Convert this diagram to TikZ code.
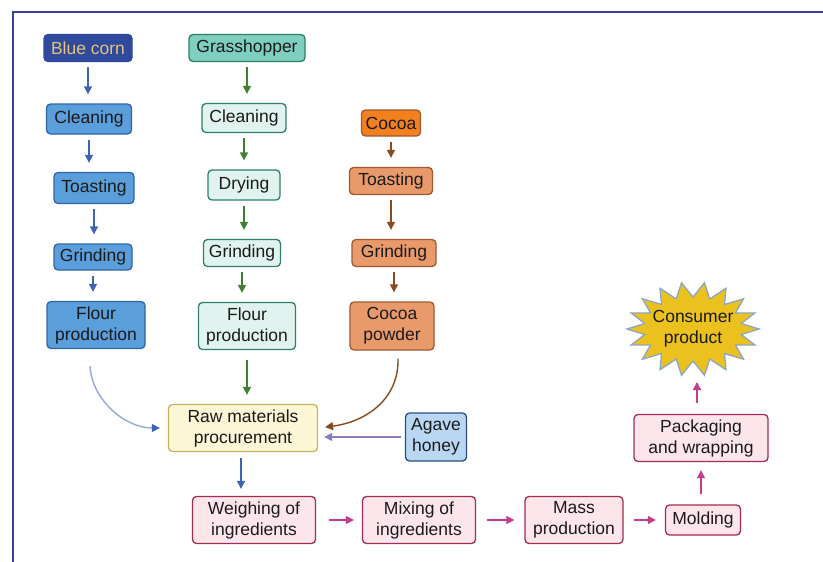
\documentclass[tikz,border=0pt]{standalone}
\usepackage{fontspec}
\setmainfont{Liberation Sans}
\usetikzlibrary{arrows.meta,calc}
\definecolor{frame}{HTML}{3A3F9A}
\definecolor{bcfill}{HTML}{2F4A9C}
\definecolor{bctext}{HTML}{E6C27A}
\definecolor{bfill}{HTML}{5A9EDB}
\definecolor{bdraw}{HTML}{2F66A8}
\definecolor{gtopfill}{HTML}{7ECFC0}
\definecolor{gdraw}{HTML}{2E7F6C}
\definecolor{gfill}{HTML}{E0F3EF}
\definecolor{garrow}{HTML}{3F7F2F}
\definecolor{ctopfill}{HTML}{F2801F}
\definecolor{cfill}{HTML}{E99A6A}
\definecolor{cdraw}{HTML}{A0582E}
\definecolor{carrow}{HTML}{8A4A1F}
\definecolor{barrow}{HTML}{3D64B4}
\definecolor{rawfill}{HTML}{FBF6D6}
\definecolor{rawdraw}{HTML}{C9B35A}
\definecolor{agfill}{HTML}{B9D7F2}
\definecolor{agdraw}{HTML}{2E4C84}
\definecolor{pfill}{HTML}{FCE6EC}
\definecolor{pdraw}{HTML}{A62A52}
\definecolor{parrow}{HTML}{C43D8E}
\definecolor{starfill}{HTML}{EBC11E}
\definecolor{stardraw}{HTML}{8BA6C6}
\definecolor{txt}{HTML}{1A1A1A}
\tikzset{
  box/.style={draw, rounded corners=4pt, line width=1.3pt, align=center, inner sep=1pt,
    font=\fontsize{17.5}{21}\selectfont, text=txt},
  bluebox/.style={box, fill=bfill, draw=bdraw},
  greenbox/.style={box, fill=gfill, draw=gdraw},
  cocoabox/.style={box, fill=cfill, draw=cdraw},
  pinkbox/.style={box, fill=pfill, draw=pdraw},
  tip/.style={-{Triangle[length=8pt,width=8pt]}},
  arr/.style={line width=1.4pt, tip, shorten <=5pt, shorten >=9pt},
}
\begin{document}
\begin{tikzpicture}[x=1pt,y=-1pt]
\useasboundingbox (0,0) rectangle (823,562);
\fill[white] (0,0) rectangle (823,562);
\draw[frame, line width=2.5pt] (13,570) -- (13,12) -- (830,12);

% blue corn column
\node[box, fill=bcfill, draw=bcfill, text=bctext, minimum width=88pt, minimum height=27pt] (bc) at (88,48) {Blue corn};
\node[bluebox, minimum width=85pt, minimum height=30pt] (bc1) at (89,119) {Cleaning};
\node[bluebox, minimum width=80pt, minimum height=31pt] (bc2) at (94,188) {Toasting};
\node[bluebox, minimum width=78pt, minimum height=26pt] (bc3) at (93,257) {Grinding};
\node[bluebox, minimum width=98pt, minimum height=47pt] (bc4) at (96,325) {Flour\\production};

% grasshopper column
\node[box, fill=gtopfill, draw=gdraw, minimum width=116pt, minimum height=27pt] (gh) at (247,48) {Grasshopper};
\node[greenbox, minimum width=84pt, minimum height=29pt] (gh1) at (244,118) {Cleaning};
\node[greenbox, minimum width=72pt, minimum height=30pt] (gh2) at (244,185) {Drying};
\node[greenbox, minimum width=77pt, minimum height=27pt] (gh3) at (242,253) {Grinding};
\node[greenbox, minimum width=97pt, minimum height=47pt] (gh4) at (247,326) {Flour\\production};

% cocoa column
\node[box, fill=ctopfill, draw=cdraw, minimum width=59pt, minimum height=26pt] (co) at (391,123) {Cocoa};
\node[cocoabox, minimum width=83pt, minimum height=27pt] (co1) at (391,181) {Toasting};
\node[cocoabox, minimum width=84pt, minimum height=27pt] (co2) at (394,253) {Grinding};
\node[cocoabox, minimum width=84pt, minimum height=48pt] (co3) at (392,326) {Cocoa\\powder};

% central
\node[box, fill=rawfill, draw=rawdraw, minimum width=149pt, minimum height=47pt] (raw) at (243,428) {Raw materials\\procurement};
\node[box, fill=agfill, draw=agdraw, minimum width=61pt, minimum height=48pt] (agave) at (436,437) {Agave\\honey};
\node[pinkbox, minimum width=123pt, minimum height=47pt] (weigh) at (254,520) {Weighing of\\ingredients};
\node[pinkbox, minimum width=113pt, minimum height=47pt] (mix) at (419,520) {Mixing of\\ingredients};
\node[pinkbox, minimum width=98pt, minimum height=47pt] (mass) at (574,520) {Mass\\production};
\node[pinkbox, minimum width=75pt, minimum height=30pt] (mold) at (703,520) {Molding};
\node[pinkbox, minimum width=134pt, minimum height=47pt] (pack) at (701,438) {Packaging\\and wrapping};

% starburst
\coordinate (sc) at (693,329);
\coordinate (starbot) at (697,377);
\draw[fill=starfill, draw=stardraw, line width=1.3pt, line join=miter]
  ([shift={(0:66pt and 47pt)}]sc)
  \foreach \i in {1,...,35}{
    \pgfextra{\pgfmathsetmacro{\ang}{\i*10}%
      \pgfmathsetmacro{\rx}{isodd(\i) ? 49 : 66}%
      \pgfmathsetmacro{\ry}{isodd(\i) ? 32 : 47}}
    -- ([shift={(\ang:\rx pt and \ry pt)}]sc)
  } -- cycle;
\node[font=\fontsize{17.5}{21}\selectfont, text=txt, align=center, inner sep=1pt] (cons) at (sc) {Consumer\\product};

% vertical arrows
\foreach \a/\b/\c in {bc/bc1/barrow, bc1/bc2/barrow, bc2/bc3/barrow, bc3/bc4/barrow,
  gh/gh1/garrow, gh1/gh2/garrow, gh2/gh3/garrow, gh3/gh4/garrow,
  co/co1/carrow, co1/co2/carrow, co2/co3/carrow}{
  \draw[arr, \c] (\a.south) -- (\a.south |- \b.north);
}
\draw[arr, garrow, shorten <=10pt] (gh4.south) -- (gh4.south |- raw.north);

% curved inputs
\draw[line width=1.4pt, barrow!55, -{Triangle[length=8pt,width=8pt,color=barrow]}, shorten >=8pt]
  ($(bc4.south)+(-6,17)$) .. controls (92,400) and (125,428) .. (raw.west);
\draw[line width=1.4pt, carrow, tip, shorten >=7pt]
  ($(co3.south)+(6,8)$) .. controls (399,400) and (365,422) .. (raw.east);
\draw[arr, barrow!70!violet!70, shorten <=4pt, shorten >=6pt] (agave.west) -- (agave.west -| raw.east);
\draw[arr, barrow, shorten <=6pt, shorten >=7pt] (raw.south -| 241,0) -- (weigh.north -| 241,0);

% process chain
\draw[arr, parrow, shorten <=13pt, shorten >=8pt] (weigh.east) -- (mix.west);
\draw[arr, parrow, shorten <=11pt, shorten >=10pt] (mix.east) -- (mass.west);
\draw[arr, parrow, shorten <=10pt, shorten >=9pt] (mass.east) -- (mold.west);
\draw[arr, parrow, shorten <=10pt, shorten >=8pt] (mold.north -| pack.south) -- (pack.south);
\draw[arr, parrow, shorten <=11pt, shorten >=5pt] (pack.north -| starbot) -- (starbot);
\end{tikzpicture}
\end{document}
